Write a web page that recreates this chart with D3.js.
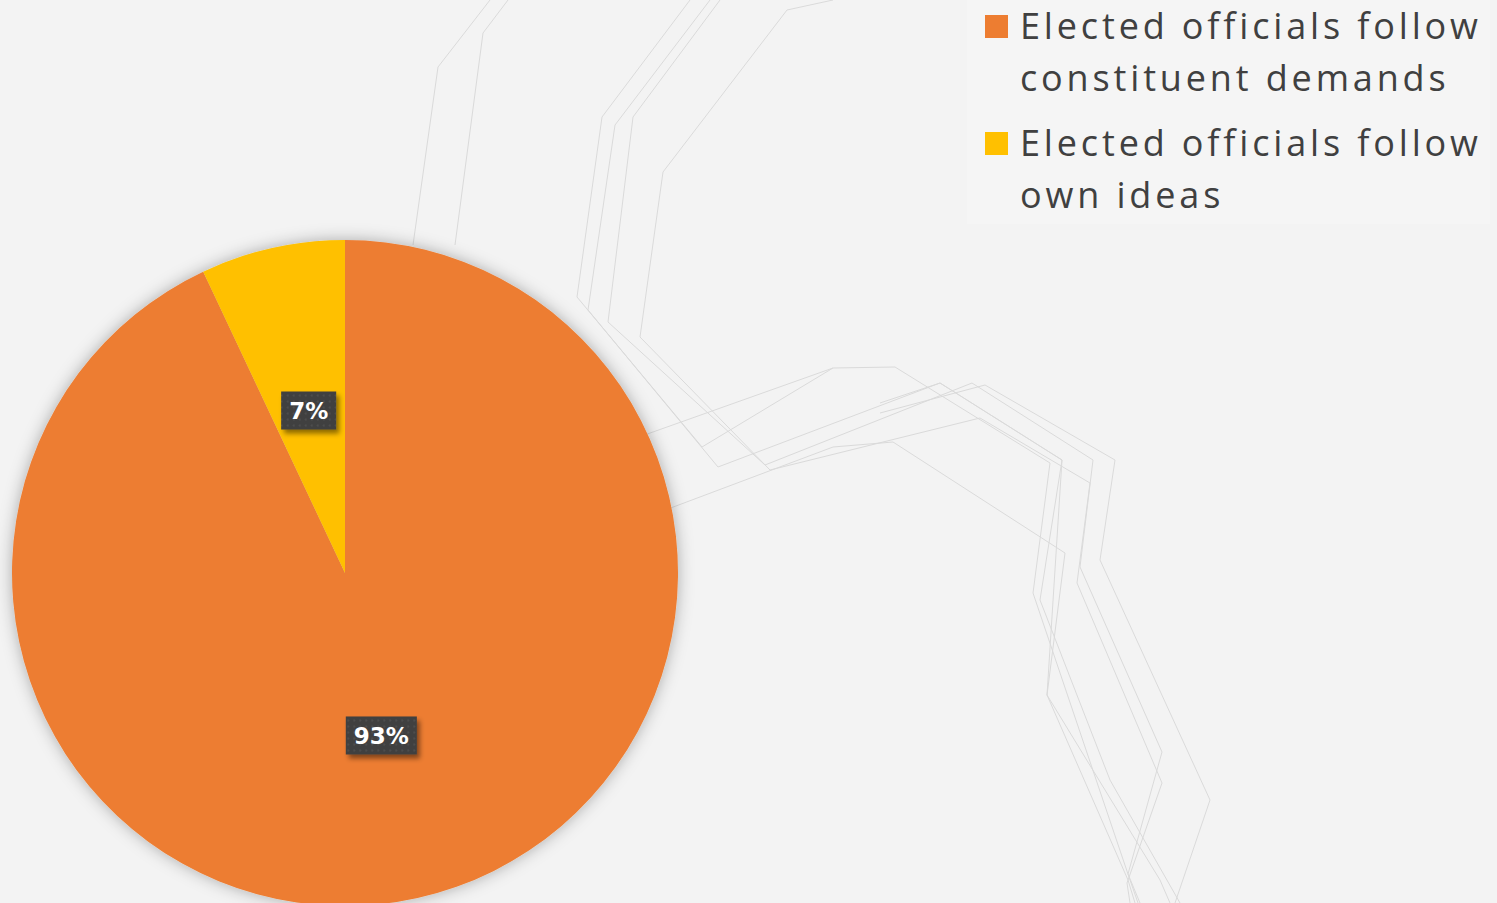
<!DOCTYPE html>
<html>
<head>
<meta charset="utf-8">
<script src="https://cdn.jsdelivr.net/npm/d3@7"></script>
<style>
html,body{margin:0;padding:0;background:#f3f3f3;overflow:hidden;}
svg{display:block;}
</style>
</head>
<body>
<svg id="chart" width="1497" height="903"></svg>
<script>
// ---- data ----
const categories = ["Elected officials follow constituent demands", "Elected officials follow own ideas"];
const legendLines = [["Elected officials follow", "constituent demands"], ["Elected officials follow", "own ideas"]];
const values = [93, 7];
const valueLabels = ["93%", "7%"];
const colors = ["#ED7D31", "#FFC000"];

// decorative background polylines (theme artwork, not data)
const decoLines = [
  [[490,0],[438,67],[413,245]],
  [[508,0],[483,33],[455,245]],
  [[690,0],[602,117],[577,297],[702,447],[833,368],[895,367],[1050,463],[1033,593],[1130,880],[1138,903]],
  [[710,0],[615,125],[588,310],[718,467],[940,383],[1062,460],[1047,695],[1128,880],[1135,903]],
  [[720,0],[633,117],[608,322],[765,465],[972,383],[1093,460],[1080,567],[1162,752],[1128,874],[1140,903]],
  [[833,0],[787,10],[663,172],[640,337],[770,470],[980,418],[1090,483],[1077,583],[1162,783],[1127,883],[1130,903]],
  [[622,443],[833,368]],
  [[660,512],[833,447],[893,442],[1065,553],[1047,695],[1160,880],[1170,903]],
  [[880,403],[940,383],[1062,460],[1040,600],[1110,780],[1180,903]],
  [[880,413],[985,385],[1115,460],[1100,560],[1210,800],[1175,903]]
];

const W = 1497, H = 903;
const svg = d3.select("#chart");
const defs = svg.append("defs");

const f1 = defs.append("filter").attr("id","pieShadow").attr("x","-20%").attr("y","-20%").attr("width","140%").attr("height","140%");
f1.append("feDropShadow").attr("dx",0).attr("dy",0).attr("stdDeviation",8).attr("flood-color","#000").attr("flood-opacity",0.3);
const f2 = defs.append("filter").attr("id","lblShadow").attr("x","-30%").attr("y","-30%").attr("width","170%").attr("height","170%");
f2.append("feDropShadow").attr("dx",3).attr("dy",4).attr("stdDeviation",2.5).attr("flood-color","#000").attr("flood-opacity",0.45);
const pat = defs.append("pattern").attr("id","dots").attr("width",6).attr("height",6).attr("patternUnits","userSpaceOnUse");
pat.append("rect").attr("width",6).attr("height",6).attr("fill","#3f3f3f");
pat.append("circle").attr("cx",3).attr("cy",3).attr("r",0.9).attr("fill","#555");

svg.append("rect").attr("width",W).attr("height",H).attr("fill","#f3f3f3");

const lineGen = d3.line();
svg.append("g").selectAll("path").data(decoLines).join("path")
  .attr("d", d => lineGen(d))
  .attr("fill","none").attr("stroke","#dadada").attr("stroke-width",1);

svg.append("rect").attr("x",967).attr("y",0).attr("width",523).attr("height",224).attr("fill","#f5f5f5").attr("opacity",0.85);

// pie
const cx = 345, cy = 573, r = 333;
const pie = d3.pie().sort(null).value(d => d)(values);
const arc = d3.arc().innerRadius(0).outerRadius(r);
const g = svg.append("g").attr("transform",`translate(${cx},${cy})`);
g.append("g").attr("filter","url(#pieShadow)")
  .selectAll("path").data(pie).join("path")
  .attr("d", arc)
  .attr("fill",(d,i) => colors[i]);

// data labels
const lblG = g.selectAll("g.lbl").data(pie).join("g").attr("class","lbl")
  .attr("transform", d => { const c = arc.centroid(d); return `translate(${c[0]},${c[1]})`; });
lblG.each(function(d,i){
  const sel = d3.select(this);
  const t = sel.append("text")
    .attr("text-anchor","middle").attr("dy","0.36em")
    .attr("font-family","'DejaVu Sans', sans-serif").attr("font-weight","bold")
    .attr("font-size",23).attr("fill","#ffffff")
    .text(valueLabels[i]);
  const bb = t.node().getBBox();
  const padX = 8, h = 38;
  sel.insert("rect","text")
    .attr("x", -bb.width/2 - padX).attr("y", -h/2)
    .attr("width", bb.width + 2*padX).attr("height", h)
    .attr("fill","url(#dots)").attr("filter","url(#lblShadow)");
});

// legend
const legend = svg.append("g");
const legX = 985, textX = 1020, firstBase = 39, lineH = 52, entryH = 117;
let lsVal = 0;
legendLines.forEach((lines, i) => {
  const y0 = firstBase + i*entryH;
  legend.append("rect").attr("x",legX).attr("y",y0-24).attr("width",23).attr("height",23).attr("fill",colors[i]);
  lines.forEach((ln, j) => {
    const t = legend.append("text")
      .attr("x",textX).attr("y",y0 + j*lineH)
      .attr("font-family","'Open Sans', 'DejaVu Sans', sans-serif")
      .attr("font-size",36).attr("fill","#404040")
      .text(ln);
    if (i === 0 && j === 0) {
      const w = t.node().getComputedTextLength();
      lsVal = (458 - w) / (ln.length - 1);
    }
  });
});
legend.selectAll("text").attr("letter-spacing", lsVal);
</script>
</body>
</html>
